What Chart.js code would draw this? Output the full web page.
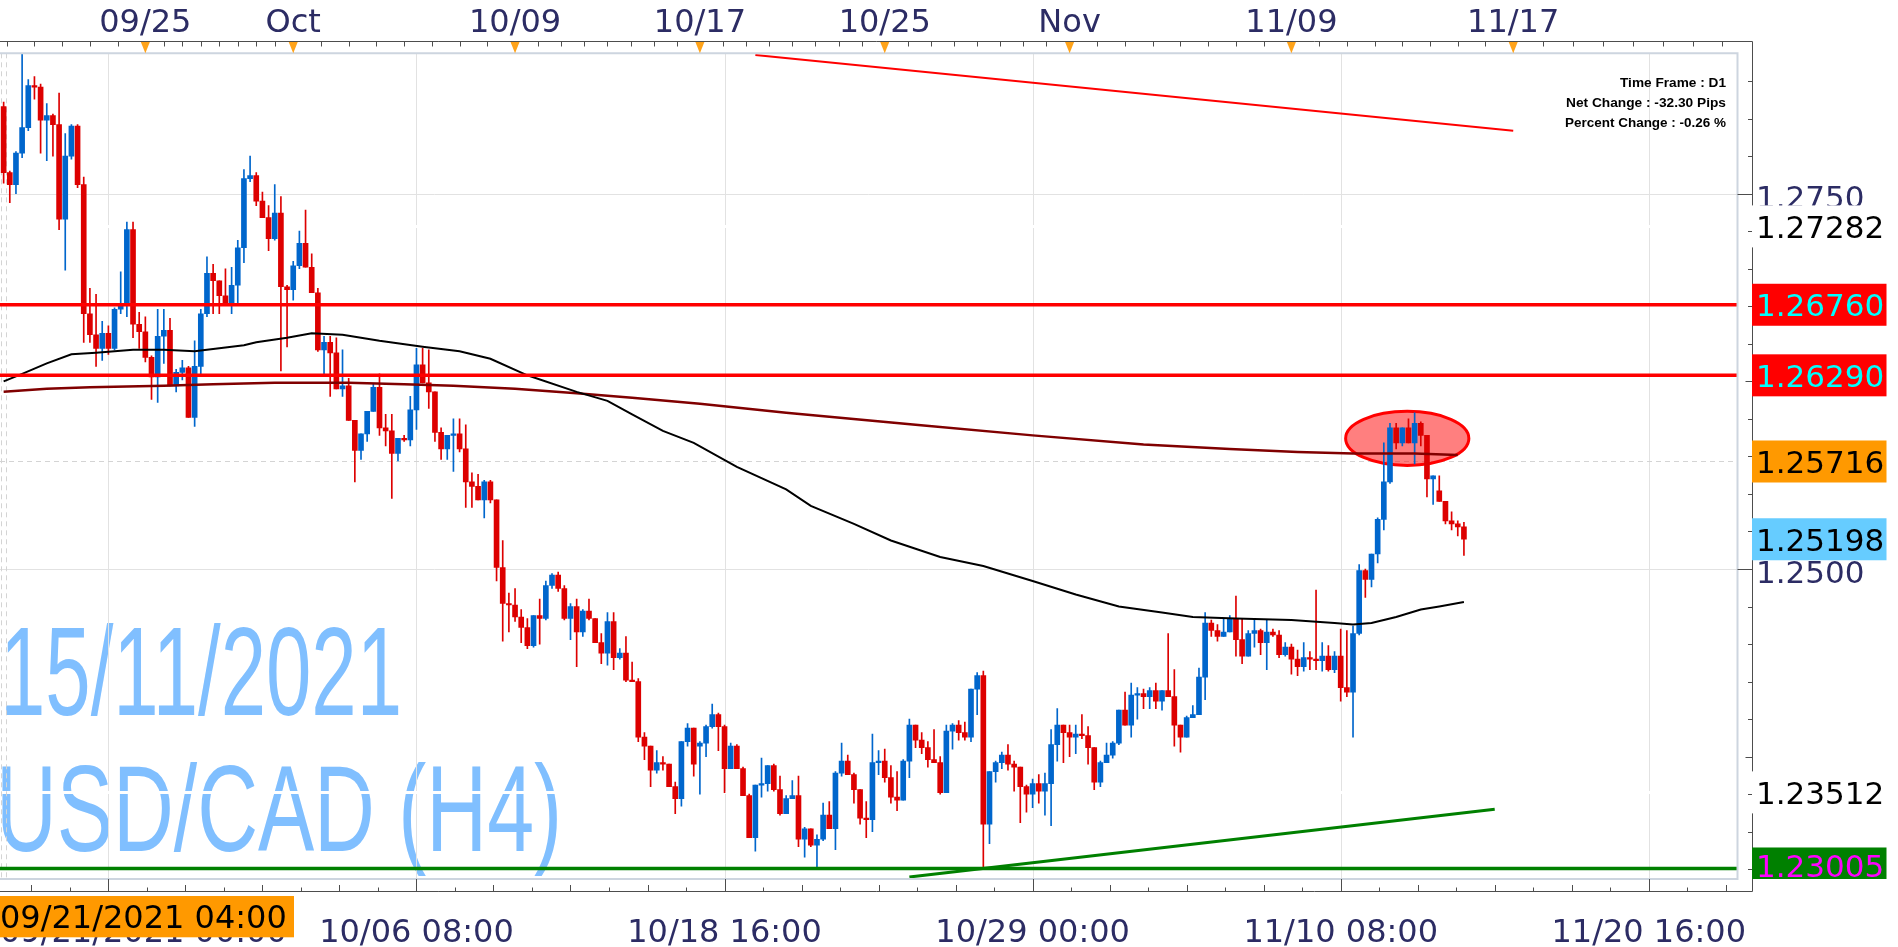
<!DOCTYPE html>
<html>
<head>
<meta charset="utf-8">
<title>USD/CAD H4</title>
<script src="https://cdn.jsdelivr.net/npm/chart.js@4.4.1/dist/chart.umd.min.js"></script>
<style>
  html, body { margin: 0; padding: 0; background: #fff; overflow: hidden; }
  canvas { display: block; }
</style>
</head>
<body>
<canvas id="chart" width="1898" height="947"></canvas>
<script>
// ---------- CANDLES (H4 bars, index 0 = 09/21 04:00) ----------
const opens = [
  1.2808,1.2764,1.2756,1.2777,1.2794,1.2822,1.2821,1.2799,1.2802,1.2796,
  1.2733,1.2775,1.2795,1.2756,1.2670,1.2656,1.2647,1.2657,1.2647,1.2673,
  1.2676,1.2726,1.2663,1.2658,1.2641,1.2628,1.2655,1.2659,1.2622,1.2631,
  1.2634,1.2601,1.2635,1.2670,1.2697,1.2692,1.2682,1.2677,1.2689,1.2714,
  1.2760,1.2762,1.2745,1.2734,1.2720,1.2737,1.2688,1.2686,1.2702,1.2717,
  1.2701,1.2684,1.2646,1.2651,1.2644,1.2620,1.2622,1.2599,1.2579,1.2590,
  1.2605,1.2621,1.2594,1.2592,1.2577,1.2587,1.2586,1.2606,1.2636,1.2624,
  1.2618,1.2591,1.2580,1.2589,1.2590,1.2580,1.2558,1.2555,1.2546,1.2558,
  1.2546,1.2501,1.2477,1.2476,1.2468,1.2461,1.2449,1.2469,1.2467,1.2489,
  1.2496,1.2487,1.2467,1.2475,1.2458,1.2472,1.2467,1.2451,1.2444,1.2465,
  1.2441,1.2444,1.2426,1.2425,1.2388,1.2382,1.2366,1.2371,1.2370,1.2355,
  1.2347,1.2385,1.2394,1.2382,1.2384,1.2395,1.2403,1.2395,1.2367,1.2382,
  1.2367,1.2349,1.2321,1.2356,1.2357,1.2369,1.2353,1.2337,1.2347,1.2349,
  1.2320,1.2327,1.2316,1.2320,1.2336,1.2327,1.2364,1.2372,1.2363,1.2353,
  1.2334,1.2333,1.2371,1.2372,1.2361,1.2348,1.2346,1.2372,1.2396,1.2386,
  1.2381,1.2373,1.2371,1.2351,1.2392,1.2396,1.2391,1.2388,1.2420,1.2429,
  1.2330,1.2365,1.2371,1.2376,1.2370,1.2368,1.2355,1.2350,1.2357,1.2352,
  1.2357,1.2383,1.2396,1.2391,1.2388,1.2390,1.2389,1.2381,1.2358,1.2371,
  1.2376,1.2384,1.2406,1.2396,1.2416,1.2417,1.2415,1.2419,1.2412,1.2419,
  1.2415,1.2396,1.2388,1.2401,1.2403,1.2428,1.2464,1.2459,1.2455,1.2458,
  1.2467,1.2453,1.2442,1.2457,1.2459,1.2451,1.2458,1.2456,1.2443,1.2448,
  1.2440,1.2435,1.2441,1.2440,1.2439,1.2442,1.2433,1.2442,1.2421,1.2418,
  1.2457,1.2499,1.2493,1.2510,1.2533,1.2558,1.2594,1.2584,1.2594,1.2584,
  1.2597,1.2589,1.2560,1.2552,1.2545,1.2532,1.2530,1.2528
];
const highs = [
  1.2811,1.2765,1.2778,1.2843,1.2826,1.2828,1.2823,1.2810,1.2803,1.2817,
  1.2790,1.2796,1.2796,1.2761,1.2687,1.2683,1.2665,1.2662,1.2674,1.2698,
  1.2731,1.2731,1.2671,1.2668,1.2642,1.2673,1.2673,1.2667,1.2633,1.2639,
  1.2635,1.2652,1.2673,1.2708,1.2703,1.2692,1.2700,1.2701,1.2719,1.2766,
  1.2775,1.2764,1.2751,1.2742,1.2756,1.2748,1.2689,1.2705,1.2725,1.2739,
  1.2710,1.2687,1.2655,1.2655,1.2654,1.2646,1.2627,1.2599,1.2590,1.2605,
  1.2623,1.2630,1.2603,1.2603,1.2587,1.2589,1.2615,1.2647,1.2647,1.2646,
  1.2618,1.2594,1.2589,1.2600,1.2600,1.2596,1.2564,1.2563,1.2559,1.2559,
  1.2546,1.2519,1.2484,1.2487,1.2473,1.2467,1.2469,1.2480,1.2492,1.2497,
  1.2498,1.2489,1.2477,1.2480,1.2473,1.2480,1.2467,1.2457,1.2471,1.2471,
  1.2447,1.2455,1.2438,1.2427,1.2391,1.2382,1.2379,1.2375,1.2370,1.2358,
  1.2385,1.2397,1.2394,1.2385,1.2396,1.2410,1.2404,1.2396,1.2384,1.2383,
  1.2368,1.2350,1.2356,1.2374,1.2369,1.2370,1.2362,1.2349,1.2359,1.2362,
  1.2328,1.2327,1.2323,1.2344,1.2345,1.2365,1.2384,1.2376,1.2364,1.2353,
  1.2345,1.2390,1.2379,1.2380,1.2369,1.2365,1.2373,1.2400,1.2396,1.2391,
  1.2385,1.2393,1.2375,1.2396,1.2397,1.2399,1.2398,1.2420,1.2431,1.2432,
  1.2365,1.2372,1.2378,1.2383,1.2372,1.2368,1.2356,1.2360,1.2363,1.2364,
  1.2393,1.2407,1.2396,1.2396,1.2396,1.2403,1.2395,1.2381,1.2372,1.2384,
  1.2385,1.2406,1.2418,1.2424,1.2421,1.2420,1.2421,1.2424,1.2419,1.2457,
  1.2433,1.2396,1.2402,1.2409,1.2434,1.2471,1.2466,1.2463,1.2467,1.2469,
  1.2482,1.2467,1.2459,1.2466,1.2460,1.2466,1.2460,1.2459,1.2451,1.2450,
  1.2446,1.2451,1.2445,1.2486,1.2451,1.2449,1.2445,1.2460,1.2459,1.2462,
  1.2503,1.2500,1.2510,1.2534,1.2584,1.2597,1.2597,1.2594,1.2600,1.2604,
  1.2598,1.2589,1.2562,1.2562,1.2545,1.2538,1.2532,1.2531
];
const lows = [
  1.2757,1.2744,1.2750,1.2774,1.2792,1.2813,1.2777,1.2772,1.2775,1.2726,
  1.2699,1.2773,1.2754,1.2651,1.2651,1.2635,1.2639,1.2643,1.2646,1.2670,
  1.2668,1.2654,1.2647,1.2638,1.2613,1.2611,1.2637,1.2622,1.2618,1.2626,
  1.2601,1.2595,1.2629,1.2668,1.2670,1.2670,1.2676,1.2670,1.2677,1.2704,
  1.2758,1.2742,1.2734,1.2712,1.2719,1.2632,1.2648,1.2679,1.2700,1.2701,
  1.2684,1.2645,1.2629,1.2615,1.2620,1.2615,1.2599,1.2558,1.2573,1.2585,
  1.2605,1.2589,1.2582,1.2547,1.2572,1.2585,1.2582,1.2593,1.2624,1.2607,
  1.2585,1.2573,1.2573,1.2565,1.2578,1.2541,1.2541,1.2546,1.2534,1.2544,
  1.2492,1.2452,1.2458,1.2465,1.2451,1.2447,1.2448,1.2450,1.2466,1.2487,
  1.2485,1.2466,1.2453,1.2435,1.2455,1.2466,1.2451,1.2437,1.2436,1.2433,
  1.2440,1.2425,1.2425,1.2385,1.2373,1.2355,1.2364,1.2366,1.2355,1.2337,
  1.2342,1.2382,1.2362,1.2350,1.2375,1.2394,1.2379,1.2351,1.2367,1.2367,
  1.2349,1.2321,1.2312,1.2348,1.2352,1.2352,1.2336,1.2337,1.2347,1.2315,
  1.2308,1.2315,1.2300,1.2319,1.2327,1.2313,1.2362,1.2363,1.2344,1.2330,
  1.2321,1.2325,1.2363,1.2358,1.2344,1.2339,1.2346,1.2361,1.2381,1.2377,
  1.2368,1.2371,1.2350,1.2351,1.2380,1.2386,1.2386,1.2385,1.2403,1.23005,
  1.2317,1.2358,1.2367,1.2366,1.2352,1.2331,1.2338,1.2341,1.2344,1.2336,
  1.2329,1.2372,1.2371,1.2375,1.2377,1.2387,1.2370,1.2353,1.2355,1.2371,
  1.2374,1.2383,1.2396,1.2388,1.2400,1.2407,1.2407,1.2407,1.2406,1.2415,
  1.2382,1.2378,1.2388,1.2401,1.2403,1.2413,1.2455,1.2452,1.2455,1.2458,
  1.2442,1.2437,1.2442,1.2448,1.2443,1.2433,1.2455,1.2441,1.2442,1.2430,
  1.2429,1.2432,1.2433,1.2433,1.2432,1.2432,1.2431,1.2412,1.2415,1.2388,
  1.2456,1.2481,1.2488,1.2504,1.2526,1.2557,1.2580,1.2582,1.2584,1.2570,
  1.2582,1.2548,1.2543,1.2545,1.2530,1.2526,1.2522,1.2509
];
const closes = [
  1.2764,1.2756,1.2777,1.2794,1.2822,1.2821,1.2799,1.2802,1.2796,1.2733,
  1.2775,1.2795,1.2756,1.2670,1.2656,1.2647,1.2657,1.2647,1.2673,1.2676,
  1.2726,1.2663,1.2658,1.2641,1.2628,1.2655,1.2659,1.2622,1.2631,1.2634,
  1.2601,1.2635,1.2670,1.2697,1.2692,1.2682,1.2677,1.2689,1.2714,1.2760,
  1.2762,1.2745,1.2734,1.2720,1.2737,1.2688,1.2686,1.2702,1.2717,1.2701,
  1.2684,1.2646,1.2651,1.2644,1.2620,1.2622,1.2599,1.2579,1.2590,1.2605,
  1.2621,1.2594,1.2592,1.2577,1.2587,1.2586,1.2606,1.2636,1.2624,1.2618,
  1.2591,1.2580,1.2589,1.2590,1.2580,1.2558,1.2555,1.2546,1.2558,1.2546,
  1.2501,1.2477,1.2476,1.2468,1.2461,1.2449,1.2469,1.2467,1.2489,1.2496,
  1.2487,1.2467,1.2475,1.2458,1.2472,1.2467,1.2451,1.2444,1.2465,1.2441,
  1.2444,1.2426,1.2425,1.2388,1.2382,1.2366,1.2371,1.2370,1.2355,1.2347,
  1.2385,1.2394,1.2370,1.2384,1.2395,1.2403,1.2395,1.2367,1.2382,1.2367,
  1.2349,1.2321,1.2356,1.2357,1.2369,1.2353,1.2337,1.2347,1.2349,1.2320,
  1.2327,1.2316,1.2320,1.2336,1.2327,1.2364,1.2372,1.2363,1.2353,1.2334,
  1.2333,1.2371,1.2372,1.2361,1.2348,1.2346,1.2372,1.2396,1.2386,1.2381,
  1.2373,1.2371,1.2351,1.2392,1.2396,1.2391,1.2388,1.2420,1.2429,1.2330,
  1.2365,1.2371,1.2376,1.2370,1.2368,1.2355,1.2350,1.2357,1.2352,1.2357,
  1.2383,1.2396,1.2391,1.2388,1.2390,1.2389,1.2381,1.2358,1.2371,1.2376,
  1.2384,1.2406,1.2396,1.2416,1.2417,1.2415,1.2419,1.2412,1.2419,1.2415,
  1.2396,1.2388,1.2401,1.2403,1.2428,1.2464,1.2459,1.2455,1.2458,1.2467,
  1.2453,1.2442,1.2457,1.2459,1.2451,1.2458,1.2456,1.2443,1.2448,1.2440,
  1.2435,1.2441,1.2440,1.2439,1.2442,1.2433,1.2442,1.2421,1.2418,1.2457,
  1.2499,1.2493,1.2510,1.2533,1.2558,1.2594,1.2584,1.2594,1.2584,1.2597,
  1.2589,1.2560,1.2562,1.2545,1.2532,1.2530,1.2528,1.25198
];

// ---------- MOVING AVERAGES (bar index, price) ----------
const maFastBars = [0,3,7,11,15,21,26,31,39,41,46,50,55,61,68,74,79,85,93,98,102,107,112,119,127,131,138,144,152,159,167,174,181,188,193,200,209,216,219,222,226,230,233,237];
const maFastVals = [1.2625,1.2630,1.2637,1.2643,1.2644,1.2646,1.2646,1.2645,1.2649,1.2651,1.2654,1.2657,1.2656,1.2652,1.2648,1.2645,1.2640,1.2629,1.2618,1.2612,1.2603,1.2592,1.2584,1.2568,1.2553,1.2542,1.2530,1.2519,1.2508,1.2502,1.2492,1.2483,1.2475,1.2471,1.2468,1.2467,1.2466,1.2464,1.2463,1.2464,1.2468,1.2473,1.2475,1.2478];
const maSlowBars = [0,7,14,26,34,44,56,65,73,83,93,102,113,127,148,167,185,199,210,219,229,236];
const maSlowVals = [1.2618,1.2620,1.2621,1.2622,1.2623,1.2624,1.2624,1.2623,1.2622,1.2620,1.2617,1.2614,1.2610,1.2604,1.2596,1.2589,1.2583,1.2580,1.2578,1.2577,1.2577,1.2576];

// ---------- DRAWN OBJECTS ----------
const resistLevels = [1.2676, 1.2629];
const supportLevel = 1.23005;
const resTrendBars = [122, 245];
const resTrendVals = [1.28424, 1.27919];
const supTrendBars = [147, 242];
const supTrendVals = [1.22948, 1.2340];
const hiddenLines = [1.27282, 1.23512];
const dashedLevel = 1.25716;
const ellipseBar = [227.8, 10];        // centre, half width (bars)
const ellipsePrice = [1.2587, 0.0018]; // centre, half height

// ---------- AXES ----------
const gridPrices = [1.2750, 1.2500];
const gridPriceLabels = ['1.2750', '1.2500'];
const gridBars = [17, 67, 117, 167, 217, 267];
const bottomLabels = ['09/21/2021 00:00', '10/06 08:00', '10/18 16:00', '10/29 00:00', '11/10 08:00', '11/20 16:00'];
const topLabelBars = [23, 47, 83, 113, 143, 173, 209, 245];
const topLabels = ['09/25', 'Oct', '10/09', '10/17', '10/25', 'Nov', '11/09', '11/17'];
const markerPrices = [1.27282, 1.26760, 1.26290, 1.25716, 1.25198, 1.23512, 1.23005];
const markerLabels = ['1.27282', '1.26760', '1.26290', '1.25716', '1.25198', '1.23512', '1.23005'];
const infoLines = ['Time Frame : D1', 'Net Change : -32.30 Pips', 'Percent Change : -0.26 %'];
const watermark = ['15/11/2021', 'USD/CAD (H4)'];
const firstBarTime = '09/21/2021 04:00';

const BULL = '#0066cc', BEAR = '#dd0000';
const NAVY = '#2c2c64';
const FONT = '"DejaVu Sans", Verdana, sans-serif';

// ---------- build datasets ----------
const candleColors = closes.map((c, i) => (c >= opens[i] ? BULL : BEAR));
const bodies = opens.map((o, i) => ({ x: i, y: [o, closes[i]] }));
const wicks = lows.map((l, i) => ({ x: i, y: [l, highs[i]] }));
const pts = (xs, ys) => xs.map((b, i) => ({ x: b, y: ys[i] }));
const flat = (p) => [{ x: -2, y: p }, { x: 290, y: p }];

function lineSet(data, color, width, order) {
  return { type: 'line', data, borderColor: color, borderWidth: width, pointRadius: 0,
           pointHoverRadius: 0, tension: 0, fill: false, order };
}

// text squeezed/stretched to a given width
function fitText(ctx, text, x, base, width, font, align) {
  ctx.font = font;
  const w = ctx.measureText(text).width;
  ctx.save();
  ctx.translate(align === 'right' ? x - width : x, base);
  ctx.scale(width / w, 1);
  ctx.textAlign = 'left';
  ctx.textBaseline = 'alphabetic';
  ctx.fillText(text, 0, 0);
  ctx.restore();
}

function seg(ctx, x1, y1, x2, y2) {
  ctx.beginPath(); ctx.moveTo(x1, y1); ctx.lineTo(x2, y2); ctx.stroke();
}

const decor = {
  id: 'decor',
  beforeDatasetsDraw(chart) {
    const { ctx, chartArea: a, scales: { x, y } } = chart;
    ctx.save();
    ctx.beginPath(); ctx.rect(a.left, a.top, a.right - a.left, a.bottom - a.top); ctx.clip();

    // watermark
    ctx.fillStyle = '#80bfff';
    fitText(ctx, watermark[0], 0, 715, 402, '126px "Liberation Sans", Arial, sans-serif');
    fitText(ctx, watermark[1], -4, 851, 566, '122px "Liberation Sans", Arial, sans-serif');

    // grid
    ctx.strokeStyle = '#e2e2e2'; ctx.lineWidth = 1;
    gridBars.forEach(b => {
      const px = Math.round(x.getPixelForValue(b)) + 0.5;
      seg(ctx, px, a.top, px, a.bottom);
    });
    gridPrices.forEach(p => {
      const py = Math.round(y.getPixelForValue(p)) + 0.5;
      seg(ctx, a.left, py, a.right, py);
    });

    // white horizontal objects
    ctx.strokeStyle = '#ffffff'; ctx.lineWidth = 3;
    hiddenLines.forEach(p => { const py = y.getPixelForValue(p); seg(ctx, a.left, py, a.right, py); });

    // dashed current price line
    ctx.strokeStyle = '#d4d4d4'; ctx.lineWidth = 1; ctx.setLineDash([5, 4]);
    const dy = Math.round(y.getPixelForValue(dashedLevel)) + 0.5;
    seg(ctx, a.left, dy, a.right, dy);
    seg(ctx, 1.5, a.top, 1.5, a.bottom);
    seg(ctx, 6.5, a.top, 6.5, a.bottom);
    ctx.setLineDash([]);

    // highlighted ellipse
    const cx = x.getPixelForValue(ellipseBar[0]);
    const rx = x.getPixelForValue(ellipseBar[0] + ellipseBar[1]) - cx;
    const cy = y.getPixelForValue(ellipsePrice[0]);
    const ry = cy - y.getPixelForValue(ellipsePrice[0] + ellipsePrice[1]);
    ctx.beginPath();
    ctx.ellipse(cx, cy, rx, ry, 0, 0, Math.PI * 2);
    ctx.fillStyle = 'rgba(255, 0, 0, 0.5)';
    ctx.fill();
    ctx.strokeStyle = '#ff0000'; ctx.lineWidth = 3;
    ctx.stroke();
    ctx.restore();
  },

  afterDraw(chart) {
    const { ctx, chartArea: a, scales: { x, y } } = chart;
    const axR = 1752.5, axT = 41.5, axB = 891.5;
    ctx.save();

    // plot frame
    ctx.strokeStyle = '#cdd5df'; ctx.lineWidth = 2;
    ctx.beginPath();
    ctx.moveTo(0, a.top); ctx.lineTo(a.right, a.top); ctx.lineTo(a.right, a.bottom); ctx.lineTo(0, a.bottom);
    ctx.stroke();

    // outer axes
    ctx.strokeStyle = '#4d4d4d'; ctx.lineWidth = 1;
    ctx.beginPath();
    ctx.moveTo(0, axT); ctx.lineTo(axR, axT); ctx.lineTo(axR, axB); ctx.lineTo(0, axB);
    ctx.stroke();

    // ---- top time axis ----
    const topTicks = [];
    for (let b = topLabelBars[0] - 4.5; b > x.min; b -= 4.5) topTicks.push(b);
    for (let i = 0; i < topLabelBars.length - 1; i++) {
      const step = (topLabelBars[i + 1] - topLabelBars[i]) / 8;
      for (let k = 0; k < 8; k++) topTicks.push(topLabelBars[i] + k * step);
    }
    for (let b = topLabelBars[topLabelBars.length - 1]; b < x.max; b += 4.85) topTicks.push(b);
    topTicks.forEach(b => {
      const px = Math.round(x.getPixelForValue(b)) + 0.5;
      if (px < axR) seg(ctx, px, axT, px, axT + 5);
    });
    ctx.font = '32px ' + FONT;
    ctx.textAlign = 'center'; ctx.textBaseline = 'alphabetic';
    topLabelBars.forEach((b, i) => {
      const px = x.getPixelForValue(b);
      ctx.fillStyle = '#ffa31a';
      ctx.beginPath();
      ctx.moveTo(px - 4.5, axT + 0.5); ctx.lineTo(px + 4.5, axT + 0.5); ctx.lineTo(px, a.top);
      ctx.closePath(); ctx.fill();
      ctx.fillStyle = NAVY;
      ctx.fillText(topLabels[i], px, 31.7);
    });

    // ---- bottom time axis ----
    ctx.strokeStyle = '#4d4d4d';
    for (let b = gridBars[0] - 12.5; b < x.max; b += 6.25) {
      if (b < x.min) continue;
      const rel = Math.round((b - gridBars[0]) / 6.25);
      const top = rel % 8 === 0 ? a.bottom : (rel % 2 === 0 ? 885 : 887.5);
      const px = Math.round(x.getPixelForValue(b)) + 0.5;
      seg(ctx, px, top, px, axB);
    }
    ctx.fillStyle = NAVY; ctx.font = '32px ' + FONT;
    bottomLabels.forEach((t, i) => {
      if (i === 0) { ctx.textAlign = 'left'; ctx.fillText(t, 0, 942); return; }
      ctx.textAlign = 'center';
      ctx.fillText(t, x.getPixelForValue(gridBars[i]), 942);
    });

    // ---- price axis ----
    for (let k = 12300; k <= 12840; k += 25) {
      const py = Math.round(y.getPixelForValue(k / 10000)) + 0.5;
      if (py < a.top || py > a.bottom) continue;
      const x1 = k % 250 === 0 ? a.right : (k % 125 === 0 ? 1745.5 : 1748);
      seg(ctx, x1, py, axR, py);
    }
    ctx.font = '31px ' + FONT; ctx.textAlign = 'left';
    ctx.fillStyle = NAVY;
    gridPrices.forEach((p, i) => ctx.fillText(gridPriceLabels[i], 1756, y.getPixelForValue(p) + 14.5));

    const markerStyle = [
      ['#ffffff', '#000000'], ['#ff0000', '#00ffff'], ['#ff0000', '#00ffff'],
      ['#ff9900', '#000000'], ['#66ccff', '#000000'], ['#ffffff', '#000000'],
      ['#008000', '#ff00ff']
    ];
    markerPrices.forEach((p, i) => {
      const py = y.getPixelForValue(p);
      const top = py - 21;
      const bottom = Math.min(py + 21, a.bottom);
      ctx.fillStyle = markerStyle[i][0];
      ctx.fillRect(axR - 0.5, top, 1887 - axR, bottom - top);
      ctx.fillStyle = markerStyle[i][1];
      ctx.fillText(markerLabels[i], 1756, Math.min(py + 11.7, bottom - 2));
    });

    // ---- info block ----
    ctx.fillStyle = '#000000';
    const infoW = [106, 160, 161];
    const infoBase = [87.3, 107.3, 126.7];
    infoLines.forEach((t, i) => fitText(ctx, t, 1726, infoBase[i], infoW[i], 'bold 13px "Liberation Sans", Arial, sans-serif', 'right'));

    // ---- first bar time box ----
    ctx.fillStyle = '#ff9900';
    ctx.fillRect(0, 896, 294, 41.3);
    ctx.fillStyle = '#000000'; ctx.font = '32px ' + FONT; ctx.textAlign = 'left';
    ctx.fillText(firstBarTime, 0, 928.3);
    ctx.restore();
  }
};

new Chart(document.getElementById('chart').getContext('2d'), {
  type: 'bar',
  data: {
    datasets: [
      lineSet(pts(resTrendBars, resTrendVals), '#ff0000', 2, 0),
      lineSet(pts(supTrendBars, supTrendVals), '#008000', 3, 0),
      lineSet(flat(resistLevels[0]), '#ff0000', 3.5, 1),
      lineSet(flat(resistLevels[1]), '#ff0000', 3.5, 1),
      lineSet(flat(supportLevel), '#008000', 3.5, 1),
      lineSet(pts(maFastBars, maFastVals), '#000000', 2, 2),
      lineSet(pts(maSlowBars, maSlowVals), '#800000', 2.5, 2),
      { label: 'body', data: bodies, backgroundColor: candleColors, barThickness: 5,
        grouped: false, minBarLength: 1.5, borderWidth: 0, order: 5 },
      { label: 'wick', data: wicks, backgroundColor: candleColors, barThickness: 1,
        grouped: false, borderWidth: 0, order: 6 }
    ]
  },
  options: {
    responsive: false,
    animation: false,
    devicePixelRatio: 1,
    events: [],
    layout: { padding: { left: 0, right: 160.5, top: 53.3, bottom: 68 } },
    scales: {
      x: { type: 'linear', min: -0.59, max: 281.4, offset: false, display: false },
      y: { type: 'linear', min: 1.22935, max: 1.28435, display: false }
    },
    plugins: { legend: { display: false }, tooltip: { enabled: false } }
  },
  plugins: [decor]
});
</script>
</body>
</html>
